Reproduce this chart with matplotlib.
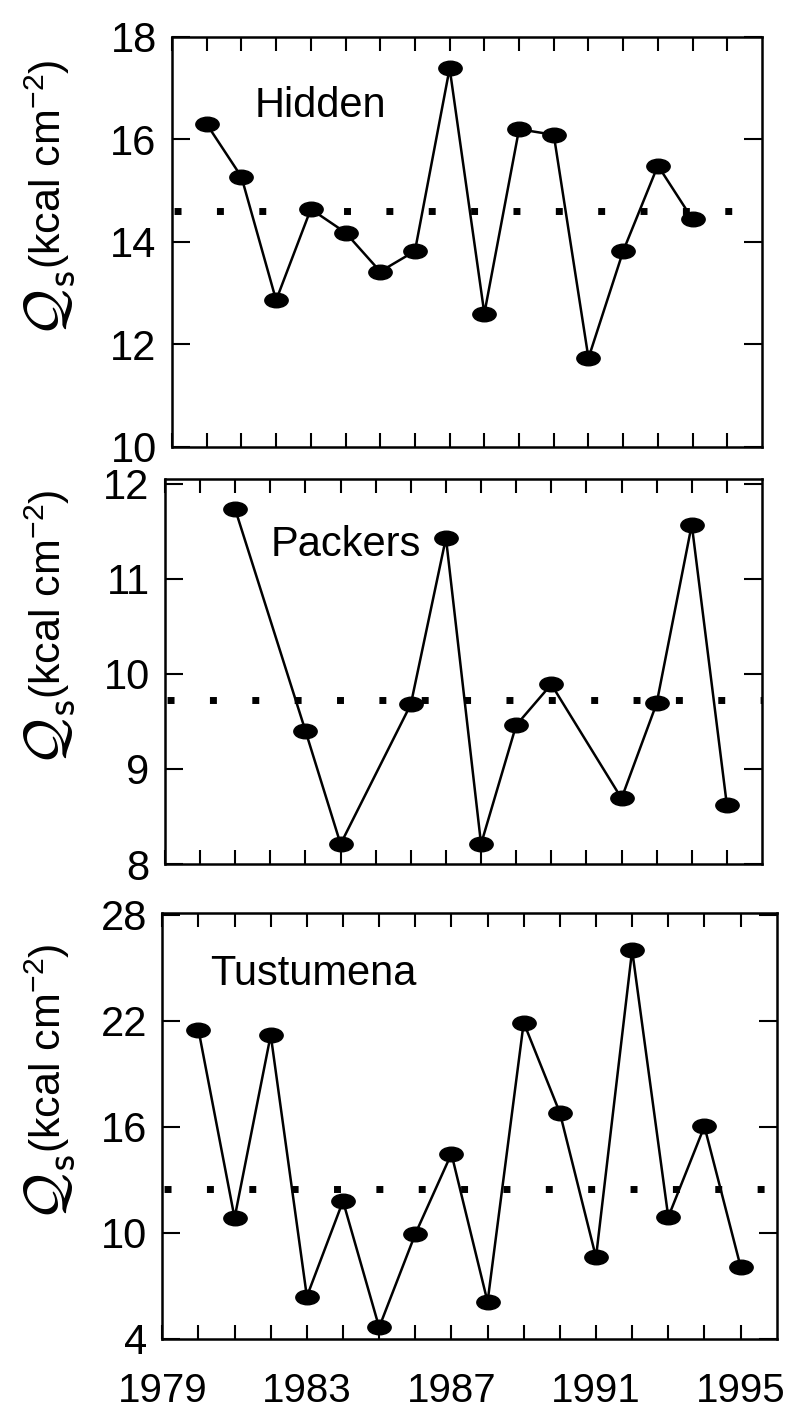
import matplotlib
matplotlib.use("Agg")
import matplotlib.pyplot as plt
from matplotlib.markers import MarkerStyle
from matplotlib.transforms import Affine2D

# ---------------- data ----------------
hidden_years = list(range(1980, 1995))
hidden_vals = [16.30, 15.27, 12.86, 14.64, 14.18, 13.42, 13.82, 17.39,
               12.60, 16.20, 16.09, 11.73, 13.82, 15.49, 14.44]
hidden_mean = 14.61

packers_years = [1981, 1983, 1984, 1986, 1987, 1988, 1989, 1990, 1992, 1993, 1994, 1995]
packers_vals = [11.73, 9.40, 8.21, 9.68, 11.43, 8.21, 9.46, 9.89, 8.69, 9.69, 11.57, 8.62]
packers_mean = 9.73

tust_years = list(range(1980, 1996))
tust_vals = [21.5, 10.85, 21.2, 6.4, 11.8, 4.66, 9.94, 14.48,
             6.1, 21.9, 16.8, 8.62, 26.0, 10.9, 16.03, 8.1]
tust_mean = 12.5

names = ["Hidden", "Packers", "Tustumena"]
yticks_list = [[10, 12, 14, 16, 18], [8, 9, 10, 11, 12], [4, 10, 16, 22, 28]]
ylims = [(10, 18), (8, 12.05), (4, 28.1)]
xtick_labels = [1979, 1983, 1987, 1991, 1995]
minor_years = list(range(1980, 1996))
name_pos = [(1981.39, 16.44), (1982.0, 11.24), (1980.32, 24.0)]

# ---------------- style ----------------
plt.rcParams["font.family"] = ["Liberation Sans", "DejaVu Sans"]
plt.rcParams["mathtext.fontset"] = "custom"
plt.rcParams["mathtext.rm"] = "Liberation Sans"
plt.rcParams["mathtext.it"] = "Liberation Sans:italic"
plt.rcParams["mathtext.bf"] = "Liberation Sans:bold"

W, H = 787, 1418
fig = plt.figure(figsize=(W / 100, H / 100), dpi=100)

# axes boxes in pixel coordinates (left, top, right, bottom)
boxes = [(172, 37, 762, 446.7), (165, 479, 762, 864), (162.3, 913, 776.7, 1339)]

series = [(hidden_years, hidden_vals, hidden_mean),
          (packers_years, packers_vals, packers_mean),
          (tust_years, tust_vals, tust_mean)]

ell = MarkerStyle("o", transform=Affine2D().scale(1.6, 1.0))

qtexts = []
for i, (box, (xs, ys, mean)) in enumerate(zip(boxes, series)):
    l, t, r, b = box
    ax = fig.add_axes([l / W, 1 - b / H, (r - l) / W, (b - t) / H])
    ax.plot(xs, ys, color="black", lw=1.8, marker=ell, markersize=10.5,
            markerfacecolor="black", markeredgecolor="black", zorder=3)
    ax.axhline(mean, color="black", lw=5, ls=(5.8, (1, 5.1)),
               dash_capstyle="butt", zorder=2)
    ax.set_xlim(1979, 1996)
    ax.set_ylim(*ylims[i])
    ax.set_yticks(yticks_list[i])
    ax.set_yticklabels([str(v) for v in yticks_list[i]], fontsize=30)
    ax.set_xticks(xtick_labels)
    ax.set_xticks(minor_years, minor=True)
    if i == 2:
        ax.set_xticklabels([str(v) for v in xtick_labels], fontsize=29)
    else:
        ax.set_xticklabels([])
    ax.tick_params(axis="x", which="both", direction="in", top=True, bottom=True,
                   length=10, width=1.5, pad=24)
    ax.tick_params(axis="y", which="both", direction="in", left=True, right=True,
                   length=13, width=1.5, pad=11)
    for s in ax.spines.values():
        s.set_linewidth(1.8)
    ax.text(name_pos[i][0], name_pos[i][1], names[i], fontsize=30,
            ha="left", va="baseline")

    # y label part 1: big calligraphic Q with subscript s
    c = (t + b) / 2
    q = fig.text(66 / W, 1 - (c + 95) / H, r"$\mathcal{Q}_{\mathsf{s}}$",
                 fontsize=42, rotation=90, rotation_mode="anchor",
                 ha="left", va="baseline", math_fontfamily="cm")
    qtexts.append(q)

# y label part 2 placed right after the Q
fig.canvas.draw()
renderer = fig.canvas.get_renderer()
for q in qtexts:
    bb = q.get_window_extent(renderer)
    ystart = (bb.y1 + 1) / H
    fig.text(61 / W, ystart, r"(kcal cm$^{-2}$)",
             fontsize=31, rotation=90, rotation_mode="anchor",
             ha="left", va="baseline")

fig.savefig("out.png", dpi=100)
